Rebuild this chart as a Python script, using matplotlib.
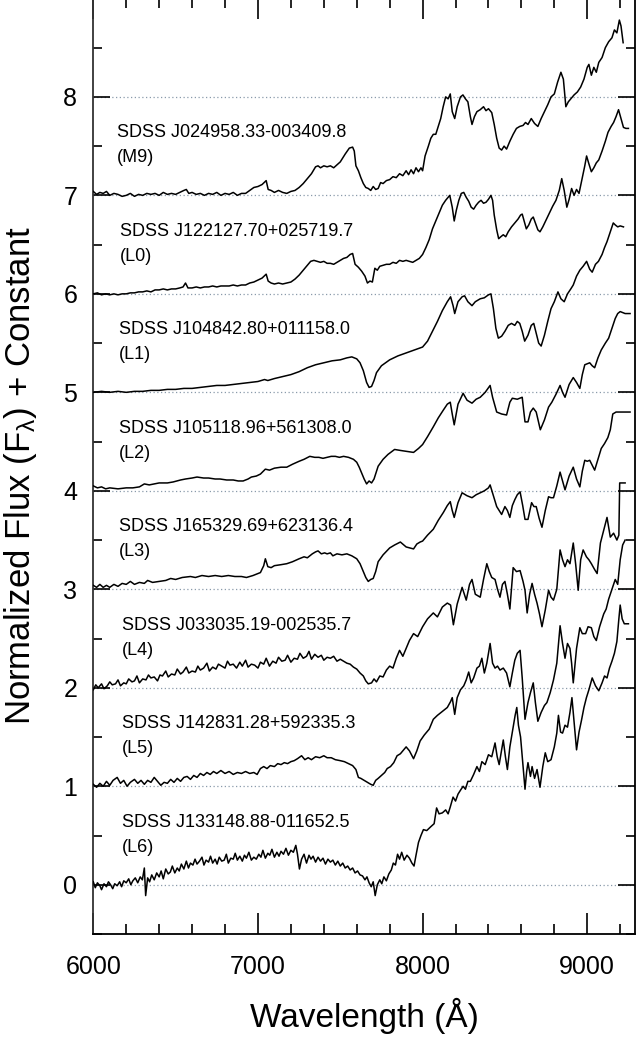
import matplotlib
matplotlib.use("Agg")
import matplotlib.pyplot as plt
import numpy as np

plt.rcParams['font.family'] = ['Liberation Sans', 'DejaVu Sans']
plt.rcParams['mathtext.fontset'] = 'custom'
plt.rcParams['mathtext.rm'] = 'Liberation Sans'
plt.rcParams['mathtext.it'] = 'Liberation Sans'
plt.rcParams['mathtext.default'] = 'regular'

names = ["SDSS J024958.33-003409.8", "SDSS J122127.70+025719.7", "SDSS J104842.80+011158.0",
         "SDSS J105118.96+561308.0", "SDSS J165329.69+623136.4", "SDSS J033035.19-002535.7",
         "SDSS J142831.28+592335.3", "SDSS J133148.88-011652.5"]
sptypes = ["(M9)", "(L0)", "(L1)", "(L2)", "(L3)", "(L4)", "(L5)", "(L6)"]
offsets = [7, 6, 5, 4, 3, 2, 1, 0]

# (wavelength [A], normalized flux without offset)
spec_m9 = [(6000,0.04),(6020,0.01),(6040,0.03),(6060,0.02),(6080,0.04),(6100,0.0),(6125,0.02),(6150,0.01),(6175,-0.01),(6200,0.0),(6225,0.02),(6250,-0.01),(6275,0.01),(6300,0.0),(6325,0.02),(6350,0.01),(6375,0.02),(6400,0.0),(6425,0.03),(6450,0.01),(6475,0.02),(6500,0.01),(6525,0.03),(6550,0.05),(6565,0.06),(6580,0.02),(6600,0.03),(6625,0.01),(6650,0.02),(6675,0.0),(6700,0.02),(6725,0.01),(6750,0.03),(6775,0.0),(6800,0.02),(6825,0.01),(6850,0.03),(6875,0.0),(6900,0.02),(6925,0.02),(6950,0.05),(6975,0.08),(7000,0.09),(7025,0.11),(7050,0.15),(7062,0.06),(7080,0.05),(7100,0.03),(7125,0.05),(7150,0.03),(7175,0.02),(7200,0.04),(7225,0.05),(7250,0.08),(7275,0.12),(7300,0.17),(7325,0.22),(7350,0.29),(7365,0.30),(7380,0.28),(7400,0.30),(7420,0.29),(7440,0.30),(7460,0.28),(7480,0.31),(7500,0.34),(7530,0.42),(7555,0.48),(7575,0.49),(7585,0.45),(7595,0.30),(7610,0.25),(7625,0.18),(7640,0.12),(7655,0.08),(7670,0.07),(7685,0.05),(7700,0.09),(7715,0.06),(7730,0.07),(7745,0.13),(7760,0.12),(7780,0.15),(7800,0.16),(7820,0.19),(7840,0.18),(7860,0.22),(7880,0.20),(7900,0.25),(7915,0.21),(7930,0.26),(7945,0.22),(7960,0.28),(7975,0.24),(7990,0.28),(8000,0.25),(8015,0.40),(8035,0.50),(8050,0.58),(8065,0.62),(8080,0.62),(8095,0.70),(8110,0.78),(8125,0.90),(8140,1.0),(8155,0.98),(8168,1.03),(8180,0.85),(8195,0.78),(8210,0.90),(8230,1.0),(8245,1.02),(8260,0.98),(8275,0.95),(8290,0.80),(8300,0.72),(8315,0.80),(8330,0.85),(8350,0.87),(8370,0.90),(8385,0.86),(8400,0.88),(8420,0.84),(8435,0.72),(8450,0.58),(8465,0.48),(8480,0.46),(8495,0.50),(8510,0.47),(8530,0.55),(8550,0.62),(8570,0.68),(8590,0.70),(8610,0.71),(8625,0.74),(8640,0.72),(8660,0.78),(8680,0.73),(8700,0.70),(8720,0.78),(8740,0.85),(8760,0.92),(8780,1.0),(8800,1.03),(8820,1.15),(8840,1.25),(8855,1.18),(8870,0.90),(8885,0.95),(8900,0.98),(8920,1.02),(8940,1.05),(8960,1.10),(8980,1.18),(9000,1.30),(9010,1.33),(9025,1.22),(9040,1.30),(9055,1.25),(9070,1.35),(9090,1.40),(9110,1.50),(9130,1.56),(9150,1.60),(9165,1.68),(9180,1.65),(9195,1.78),(9205,1.72),(9218,1.55)]

spec_l0 = [(6000,0.0),(6025,0.01),(6050,-0.01),(6075,0.0),(6100,-0.01),(6125,0.0),(6150,-0.01),(6175,0.0),(6200,0.0),(6225,0.01),(6250,0.01),(6275,0.02),(6300,0.02),(6325,0.03),(6350,0.02),(6375,0.04),(6400,0.04),(6425,0.05),(6450,0.04),(6475,0.05),(6500,0.05),(6525,0.06),(6545,0.07),(6560,0.11),(6575,0.06),(6600,0.06),(6625,0.07),(6650,0.06),(6675,0.07),(6700,0.07),(6725,0.08),(6750,0.07),(6775,0.08),(6800,0.08),(6825,0.08),(6850,0.09),(6875,0.08),(6900,0.09),(6925,0.09),(6950,0.11),(6975,0.12),(7000,0.14),(7025,0.16),(7050,0.20),(7062,0.13),(7080,0.11),(7100,0.10),(7125,0.11),(7150,0.10),(7175,0.11),(7200,0.12),(7225,0.15),(7250,0.19),(7275,0.24),(7300,0.29),(7320,0.33),(7340,0.34),(7360,0.33),(7380,0.32),(7400,0.33),(7420,0.31),(7440,0.31),(7460,0.30),(7480,0.32),(7500,0.34),(7520,0.36),(7540,0.37),(7560,0.40),(7575,0.41),(7590,0.30),(7610,0.27),(7630,0.23),(7650,0.18),(7665,0.11),(7680,0.13),(7695,0.12),(7710,0.26),(7725,0.24),(7740,0.28),(7760,0.29),(7780,0.30),(7800,0.30),(7820,0.32),(7840,0.31),(7860,0.34),(7880,0.33),(7900,0.34),(7920,0.33),(7940,0.32),(7960,0.34),(7980,0.36),(8000,0.40),(8020,0.47),(8040,0.55),(8060,0.66),(8080,0.74),(8100,0.82),(8120,0.90),(8140,0.95),(8155,0.98),(8165,1.0),(8180,0.88),(8192,0.74),(8205,0.85),(8220,0.95),(8235,1.02),(8250,1.03),(8265,0.98),(8280,0.94),(8295,0.88),(8310,0.86),(8325,0.90),(8340,0.93),(8355,0.95),(8370,0.92),(8385,0.93),(8400,0.96),(8415,1.0),(8425,0.95),(8435,0.80),(8450,0.65),(8462,0.56),(8475,0.58),(8490,0.60),(8505,0.58),(8520,0.63),(8540,0.68),(8560,0.72),(8580,0.76),(8595,0.80),(8605,0.81),(8615,0.75),(8630,0.66),(8645,0.70),(8660,0.76),(8672,0.78),(8685,0.72),(8700,0.65),(8713,0.63),(8730,0.68),(8750,0.75),(8770,0.82),(8790,0.89),(8810,0.95),(8830,1.05),(8845,1.17),(8860,1.05),(8876,0.88),(8890,0.96),(8905,1.07),(8920,1.0),(8935,1.06),(8950,1.02),(8970,1.18),(8985,1.30),(8996,1.40),(9010,1.32),(9025,1.24),(9040,1.28),(9055,1.33),(9070,1.36),(9090,1.45),(9110,1.55),(9126,1.64),(9145,1.70),(9160,1.74),(9175,1.80),(9190,1.87),(9205,1.78),(9220,1.69),(9235,1.68),(9250,1.68)]

spec_l1 = [(6000,0.0),(6050,0.01),(6100,0.0),(6150,0.01),(6200,0.0),(6250,0.01),(6300,0.01),(6350,0.02),(6400,0.02),(6450,0.03),(6500,0.03),(6550,0.04),(6600,0.04),(6650,0.05),(6700,0.06),(6750,0.07),(6800,0.07),(6850,0.08),(6900,0.09),(6950,0.10),(7000,0.11),(7040,0.13),(7060,0.12),(7100,0.14),(7150,0.16),(7200,0.18),(7250,0.21),(7300,0.25),(7350,0.28),(7400,0.30),(7450,0.32),(7500,0.33),(7540,0.35),(7570,0.36),(7600,0.34),(7620,0.30),(7640,0.22),(7660,0.10),(7675,0.05),(7690,0.06),(7705,0.12),(7720,0.20),(7750,0.27),(7800,0.33),(7850,0.37),(7900,0.40),(7950,0.43),(8000,0.46),(8030,0.52),(8060,0.62),(8090,0.72),(8120,0.83),(8150,0.92),(8170,0.97),(8185,0.88),(8195,0.80),(8215,0.92),(8240,0.97),(8255,0.98),(8275,0.92),(8300,0.88),(8320,0.92),(8350,0.95),(8375,0.96),(8400,0.99),(8415,1.0),(8430,0.85),(8445,0.65),(8460,0.55),(8480,0.57),(8500,0.62),(8520,0.68),(8540,0.70),(8560,0.68),(8575,0.72),(8590,0.70),(8605,0.62),(8620,0.52),(8640,0.58),(8660,0.68),(8675,0.70),(8690,0.60),(8705,0.50),(8720,0.47),(8740,0.58),(8760,0.72),(8780,0.85),(8800,0.92),(8822,1.02),(8840,0.95),(8860,0.92),(8880,1.0),(8900,1.05),(8915,1.09),(8935,1.18),(8955,1.24),(8975,1.28),(8996,1.33),(9015,1.25),(9030,1.22),(9050,1.30),(9068,1.33),(9090,1.40),(9105,1.47),(9120,1.53),(9140,1.63),(9158,1.72),(9170,1.70),(9185,1.68),(9200,1.69),(9220,1.68)]

spec_l2 = [(6000,0.05),(6025,0.03),(6050,0.04),(6075,0.02),(6100,0.03),(6150,0.02),(6200,0.03),(6240,0.03),(6280,0.04),(6310,0.07),(6340,0.06),(6400,0.08),(6450,0.08),(6485,0.09),(6530,0.11),(6560,0.12),(6600,0.13),(6630,0.14),(6670,0.13),(6700,0.13),(6740,0.12),(6770,0.12),(6810,0.11),(6850,0.11),(6880,0.10),(6910,0.10),(6940,0.12),(6960,0.14),(6990,0.15),(7015,0.17),(7045,0.22),(7070,0.21),(7100,0.23),(7140,0.24),(7175,0.24),(7210,0.27),(7250,0.30),(7280,0.32),(7315,0.35),(7345,0.34),(7370,0.34),(7395,0.33),(7420,0.34),(7445,0.35),(7470,0.35),(7495,0.34),(7520,0.35),(7550,0.34),(7580,0.32),(7600,0.29),(7615,0.24),(7630,0.18),(7645,0.12),(7660,0.07),(7675,0.10),(7690,0.08),(7705,0.12),(7730,0.25),(7760,0.32),(7790,0.37),(7830,0.42),(7865,0.41),(7905,0.40),(7945,0.39),(7975,0.43),(8000,0.47),(8030,0.55),(8065,0.65),(8095,0.74),(8126,0.82),(8150,0.88),(8168,0.90),(8180,0.78),(8192,0.67),(8215,0.88),(8246,0.99),(8270,0.92),(8300,0.89),(8325,0.93),(8350,0.95),(8380,1.0),(8410,1.07),(8425,0.95),(8450,0.80),(8480,0.78),(8510,0.77),(8530,0.90),(8545,0.94),(8575,0.93),(8605,0.95),(8615,0.80),(8622,0.70),(8640,0.70),(8655,0.80),(8672,0.84),(8690,0.80),(8715,0.62),(8740,0.72),(8765,0.85),(8785,0.90),(8810,0.98),(8835,1.07),(8850,1.0),(8865,0.95),(8890,1.08),(8915,1.15),(8935,1.10),(8955,1.04),(8970,1.18),(8985,1.28),(9015,1.30),(9030,1.27),(9045,1.25),(9065,1.35),(9085,1.43),(9110,1.50),(9130,1.55),(9150,1.65),(9170,1.75),(9185,1.80),(9200,1.82),(9230,1.80),(9260,1.80)]

spec_l3 = [(6000,0.04),(6020,0.02),(6040,0.05),(6060,0.02),(6080,0.04),(6100,0.02),(6125,0.05),(6150,0.03),(6175,0.06),(6200,0.05),(6225,0.08),(6250,0.05),(6280,0.07),(6310,0.06),(6330,0.09),(6360,0.07),(6400,0.08),(6440,0.09),(6470,0.11),(6500,0.10),(6540,0.12),(6590,0.13),(6620,0.12),(6660,0.14),(6700,0.13),(6740,0.14),(6780,0.13),(6820,0.14),(6860,0.13),(6900,0.13),(6930,0.12),(6970,0.14),(7015,0.17),(7035,0.24),(7045,0.31),(7060,0.23),(7080,0.22),(7100,0.24),(7140,0.25),(7175,0.26),(7210,0.28),(7250,0.31),(7280,0.33),(7300,0.32),(7330,0.36),(7350,0.38),(7365,0.39),(7385,0.36),(7405,0.37),(7420,0.36),(7440,0.37),(7455,0.34),(7480,0.36),(7510,0.35),(7540,0.36),(7570,0.34),(7600,0.31),(7620,0.26),(7640,0.18),(7655,0.12),(7670,0.08),(7685,0.10),(7700,0.11),(7715,0.18),(7730,0.28),(7760,0.35),(7800,0.42),(7830,0.45),(7865,0.48),(7900,0.43),(7945,0.41),(7965,0.46),(7985,0.48),(8000,0.49),(8030,0.55),(8065,0.61),(8095,0.70),(8126,0.78),(8150,0.85),(8168,0.89),(8180,0.80),(8192,0.73),(8215,0.88),(8240,0.98),(8270,0.95),(8300,0.93),(8325,0.96),(8350,0.98),(8375,1.0),(8400,1.03),(8410,1.06),(8430,0.95),(8450,0.84),(8465,0.80),(8480,0.76),(8500,0.84),(8515,0.80),(8530,0.73),(8545,0.85),(8560,0.91),(8575,0.96),(8592,0.99),(8608,0.85),(8622,0.71),(8640,0.71),(8652,0.80),(8662,0.88),(8676,0.84),(8690,0.84),(8708,0.72),(8725,0.63),(8745,0.80),(8765,0.94),(8780,0.93),(8795,0.93),(8815,1.05),(8835,1.19),(8850,1.10),(8865,1.01),(8890,1.15),(8915,1.24),(8935,1.12),(8955,1.04),(8970,1.20),(8985,1.31),(9000,1.30),(9015,1.31),(9030,1.26),(9045,1.21),(9065,1.32),(9085,1.43),(9105,1.48),(9125,1.54),(9140,1.62),(9155,1.78),(9175,1.80),(9200,1.80),(9260,1.80)]

spec_l4 = [(6000,-0.02),(6015,0.03),(6030,0.0),(6050,0.04),(6065,-0.01),(6085,0.02),(6100,0.06),(6115,0.03),(6135,0.04),(6150,0.08),(6165,0.02),(6185,0.05),(6200,0.04),(6215,0.09),(6235,0.06),(6250,0.07),(6265,0.12),(6280,0.05),(6300,0.09),(6320,0.08),(6335,0.13),(6350,0.10),(6370,0.11),(6390,0.07),(6405,0.13),(6420,0.12),(6440,0.17),(6455,0.11),(6475,0.14),(6495,0.13),(6510,0.19),(6530,0.14),(6545,0.16),(6565,0.21),(6580,0.15),(6600,0.17),(6620,0.16),(6635,0.22),(6650,0.18),(6670,0.20),(6690,0.25),(6705,0.17),(6725,0.21),(6745,0.19),(6760,0.24),(6780,0.22),(6800,0.20),(6815,0.27),(6830,0.23),(6850,0.24),(6870,0.20),(6890,0.26),(6905,0.22),(6925,0.28),(6940,0.21),(6960,0.24),(6980,0.23),(7000,0.20),(7015,0.26),(7035,0.24),(7050,0.30),(7070,0.22),(7090,0.27),(7110,0.25),(7125,0.31),(7145,0.27),(7165,0.28),(7180,0.33),(7200,0.26),(7220,0.30),(7240,0.29),(7255,0.35),(7275,0.30),(7295,0.32),(7310,0.37),(7325,0.29),(7345,0.34),(7365,0.31),(7385,0.33),(7400,0.28),(7420,0.31),(7440,0.30),(7460,0.32),(7480,0.27),(7500,0.29),(7520,0.27),(7540,0.25),(7560,0.24),(7580,0.21),(7600,0.19),(7620,0.15),(7640,0.12),(7655,0.07),(7670,0.04),(7690,0.05),(7705,0.09),(7720,0.06),(7740,0.12),(7760,0.11),(7780,0.18),(7800,0.22),(7820,0.20),(7840,0.30),(7860,0.38),(7880,0.32),(7900,0.40),(7920,0.48),(7945,0.55),(7970,0.52),(8000,0.62),(8030,0.70),(8065,0.76),(8090,0.72),(8120,0.82),(8150,0.86),(8170,0.84),(8187,0.64),(8210,0.85),(8240,1.02),(8265,0.89),(8285,1.05),(8300,1.10),(8320,0.95),(8350,0.92),(8370,1.10),(8390,1.26),(8405,1.18),(8420,1.12),(8440,1.10),(8455,1.0),(8470,0.92),(8485,1.05),(8500,1.08),(8515,0.95),(8530,0.80),(8550,1.22),(8570,1.18),(8592,1.19),(8610,1.08),(8622,0.99),(8635,0.76),(8650,0.95),(8665,1.06),(8680,0.95),(8695,0.86),(8710,0.75),(8725,0.62),(8745,0.79),(8765,0.99),(8780,0.92),(8795,0.89),(8815,1.0),(8835,1.40),(8850,1.30),(8865,1.23),(8880,1.30),(8895,1.26),(8915,1.47),(8930,1.25),(8945,0.99),(8960,1.30),(8975,1.40),(8995,1.33),(9010,1.30),(9025,1.26),(9045,1.20),(9060,1.16),(9080,1.47),(9100,1.60),(9120,1.73),(9140,1.53),(9160,1.57),(9180,1.50),(9192,1.55),(9197,2.08),(9230,2.08)]

spec_l5 = [(6000,0.02),(6020,-0.01),(6040,0.03),(6060,0.0),(6080,0.05),(6100,0.01),(6120,0.06),(6145,0.09),(6165,0.03),(6185,0.06),(6205,0.0),(6225,0.04),(6250,0.07),(6270,0.03),(6290,0.06),(6310,0.02),(6330,0.06),(6350,0.04),(6370,0.09),(6390,0.05),(6410,0.01),(6430,0.04),(6450,0.03),(6470,0.07),(6490,0.04),(6510,0.08),(6530,0.05),(6550,0.09),(6570,0.10),(6590,0.07),(6610,0.11),(6630,0.09),(6650,0.13),(6670,0.11),(6690,0.14),(6710,0.12),(6730,0.15),(6750,0.13),(6775,0.16),(6800,0.13),(6825,0.15),(6850,0.12),(6875,0.14),(6900,0.13),(6925,0.15),(6950,0.13),(6975,0.14),(6995,0.12),(7015,0.18),(7035,0.20),(7055,0.18),(7075,0.21),(7100,0.20),(7120,0.23),(7140,0.22),(7160,0.24),(7180,0.23),(7200,0.25),(7220,0.26),(7240,0.28),(7265,0.31),(7285,0.27),(7305,0.29),(7325,0.27),(7350,0.30),(7375,0.29),(7400,0.31),(7420,0.29),(7445,0.29),(7470,0.27),(7500,0.26),(7525,0.25),(7550,0.23),(7575,0.21),(7595,0.17),(7610,0.09),(7625,0.08),(7645,0.06),(7665,0.04),(7685,0.02),(7700,0.01),(7715,0.06),(7730,0.08),(7750,0.11),(7770,0.14),(7785,0.18),(7805,0.20),(7825,0.24),(7845,0.31),(7865,0.33),(7885,0.37),(7900,0.40),(7920,0.36),(7945,0.28),(7965,0.36),(7985,0.46),(8010,0.52),(8040,0.58),(8065,0.68),(8090,0.72),(8120,0.76),(8150,0.80),(8170,0.86),(8180,0.90),(8195,0.73),(8210,0.90),(8230,0.98),(8250,1.02),(8265,1.08),(8280,1.16),(8295,1.05),(8310,1.10),(8330,1.20),(8345,1.22),(8360,1.30),(8375,1.15),(8390,1.25),(8410,1.45),(8425,1.25),(8440,1.20),(8455,1.22),(8470,1.18),(8490,1.20),(8510,1.15),(8530,1.01),(8545,1.15),(8560,1.28),(8575,1.35),(8592,1.38),(8605,1.10),(8622,0.68),(8640,0.85),(8655,0.95),(8672,1.05),(8685,0.85),(8700,0.66),(8720,0.75),(8740,0.82),(8755,0.85),(8775,0.95),(8795,1.08),(8815,1.25),(8835,1.63),(8850,1.45),(8865,1.30),(8880,1.45),(8895,1.40),(8905,1.25),(8915,1.05),(8935,1.40),(8955,1.61),(8970,1.55),(8990,1.55),(9005,1.62),(9025,1.61),(9040,1.52),(9055,1.48),(9075,1.62),(9100,1.75),(9115,1.80),(9130,1.90),(9150,2.0),(9170,2.1),(9185,2.05),(9200,2.3),(9215,2.45),(9230,2.5)]

spec_l6 = [(6000,0.03),(6012,-0.03),(6025,0.02),(6040,-0.01),(6050,-0.05),(6065,0.01),(6080,-0.02),(6092,0.03),(6105,0.0),(6118,-0.04),(6130,0.01),(6145,-0.01),(6160,0.03),(6172,-0.02),(6185,0.04),(6200,0.02),(6215,0.06),(6228,0.0),(6240,0.04),(6255,0.07),(6270,0.02),(6285,0.08),(6298,0.05),(6310,0.17),(6318,-0.11),(6330,0.07),(6342,0.03),(6355,0.10),(6370,0.05),(6385,0.12),(6400,0.08),(6412,0.14),(6425,0.06),(6440,0.16),(6455,0.11),(6468,0.13),(6480,0.19),(6495,0.12),(6510,0.17),(6522,0.14),(6535,0.21),(6550,0.16),(6565,0.24),(6578,0.17),(6590,0.22),(6605,0.20),(6618,0.26),(6630,0.21),(6645,0.24),(6660,0.28),(6672,0.20),(6685,0.25),(6700,0.23),(6712,0.29),(6725,0.22),(6740,0.26),(6752,0.21),(6765,0.28),(6780,0.24),(6795,0.25),(6808,0.31),(6820,0.22),(6835,0.27),(6850,0.26),(6862,0.32),(6875,0.25),(6890,0.29),(6905,0.24),(6918,0.30),(6930,0.27),(6945,0.33),(6960,0.25),(6975,0.28),(6990,0.26),(7005,0.31),(7018,0.28),(7030,0.35),(7045,0.27),(7060,0.32),(7072,0.30),(7085,0.36),(7100,0.28),(7115,0.33),(7128,0.29),(7140,0.34),(7155,0.31),(7170,0.37),(7185,0.30),(7200,0.35),(7215,0.33),(7230,0.40),(7240,0.31),(7252,0.16),(7265,0.26),(7280,0.31),(7295,0.22),(7310,0.30),(7322,0.26),(7335,0.29),(7350,0.23),(7365,0.28),(7380,0.24),(7395,0.27),(7410,0.21),(7425,0.26),(7440,0.23),(7455,0.25),(7470,0.20),(7485,0.24),(7500,0.19),(7515,0.22),(7530,0.17),(7545,0.19),(7560,0.15),(7575,0.17),(7590,0.12),(7605,0.14),(7620,0.10),(7635,0.09),(7650,0.05),(7662,0.08),(7675,0.02),(7688,-0.02),(7700,0.03),(7712,-0.11),(7725,0.0),(7740,0.05),(7752,0.01),(7765,0.08),(7780,0.04),(7795,0.11),(7810,0.15),(7822,0.22),(7835,0.20),(7848,0.31),(7860,0.26),(7873,0.33),(7888,0.25),(7905,0.30),(7920,0.27),(7935,0.22),(7948,0.19),(7960,0.30),(7975,0.43),(7990,0.50),(8005,0.56),(8025,0.55),(8050,0.59),(8070,0.62),(8085,0.78),(8100,0.72),(8120,0.73),(8140,0.76),(8155,0.72),(8168,0.79),(8185,0.89),(8200,0.85),(8215,0.92),(8230,0.96),(8246,1.0),(8260,0.97),(8275,1.05),(8290,1.05),(8310,1.12),(8330,1.2),(8345,1.15),(8360,1.25),(8380,1.22),(8400,1.32),(8420,1.30),(8440,1.44),(8453,1.30),(8465,1.22),(8478,1.35),(8490,1.47),(8503,1.30),(8515,1.17),(8530,1.40),(8550,1.60),(8562,1.72),(8572,1.80),(8582,1.62),(8595,1.50),(8610,1.20),(8622,0.97),(8632,1.15),(8640,1.24),(8655,1.10),(8665,1.20),(8680,1.08),(8695,1.17),(8713,0.99),(8730,1.20),(8745,1.34),(8760,1.25),(8780,1.27),(8800,1.40),(8815,1.54),(8825,1.72),(8838,1.55),(8850,1.54),(8865,1.62),(8880,1.60),(8895,1.75),(8907,1.90),(8920,1.65),(8935,1.37),(8950,1.55),(8965,1.67),(8980,1.80),(8995,1.90),(9010,1.98),(9030,2.10),(9050,2.02),(9070,1.97),(9090,2.05),(9105,2.12),(9120,2.10),(9135,2.20),(9150,2.27),(9165,2.35),(9180,2.47),(9192,2.70),(9200,2.84),(9212,2.70),(9225,2.65),(9250,2.65)]

spectra = [spec_m9, spec_l0, spec_l1, spec_l2, spec_l3, spec_l4, spec_l5, spec_l6]

# layout
label_x = [6145, 6160, 6155, 6155, 6155, 6172, 6172, 6172]

fig = plt.figure(figsize=(6.38, 10.43), dpi=100)
ax = fig.add_axes([93.3/638, 1-934/1043, (635-93.3)/638, (934+1.6)/1043])

for off in range(0, 9):
    ax.axhline(off, color='#8a9bab', lw=0.9, ls=(0, (1, 2)), zorder=1)

for spec, off in zip(spectra, offsets):
    wl = np.array([p[0] for p in spec], float)
    fx = np.array([p[1] for p in spec], float)
    ax.plot(wl, fx + off, color='black', lw=1.1, zorder=3)

for nm, st, off, lx in zip(names, sptypes, offsets, label_x):
    ax.text(lx, off + 0.635, nm, fontsize=13, va='center', ha='left', zorder=4)
    ax.text(lx, off + 0.38, st, fontsize=13, va='center', ha='left', zorder=4)

ax.set_xlim(6000, 9290)
ax.set_ylim(-0.5, 9)
ax.set_xticks([6000, 7000, 8000, 9000])
ax.set_xticks(np.arange(6200, 9290, 200), minor=True)
ax.set_yticks(range(0, 9))
ax.set_yticks(np.arange(-0.5, 9, 0.5), minor=True)
ax.tick_params(which='both', direction='in', top=True, right=True, labelsize=18, width=1.2)
ax.tick_params(axis='x', which='major', length=15, pad=15)
ax.tick_params(axis='x', which='minor', length=7.5)
ax.tick_params(axis='y', which='major', length=12, pad=11.5)
ax.tick_params(axis='y', which='minor', length=6.5)
for s in ax.spines.values():
    s.set_linewidth(1.3)
ax.spines['left'].set_color('#333333')

ax.set_xlabel('Wavelength (Å)', fontsize=24, labelpad=14)
ax.set_ylabel('Normalized Flux (F$_\\lambda$) + Constant', fontsize=25)
ax.yaxis.set_label_coords(-0.101, 0.49)

fig.savefig('out.png', dpi=100)
